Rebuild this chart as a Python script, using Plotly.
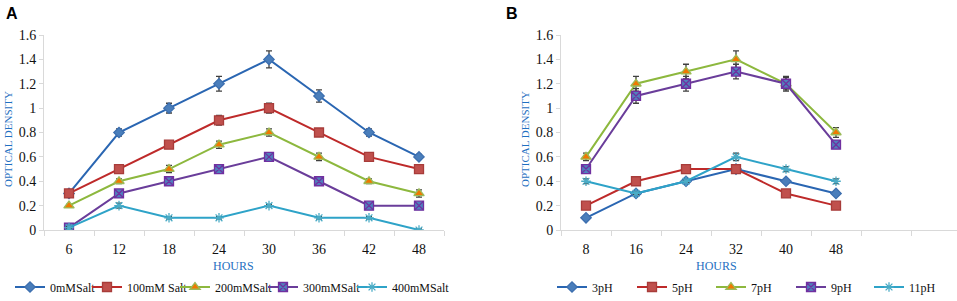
import plotly.graph_objects as go

# ---------------- data ----------------
hours_a = ["6", "12", "18", "24", "30", "36", "42", "48"]
salt_names = ["0mMSalt", "100mM Salt", "200mMSalt", "300mMSalt", "400mMSalt"]
salt_0 = [0.30, 0.80, 1.00, 1.20, 1.40, 1.10, 0.80, 0.60]
salt_0_err = [0.02, 0.03, 0.04, 0.06, 0.07, 0.05, 0.03, 0.02]
salt_100 = [0.30, 0.50, 0.70, 0.90, 1.00, 0.80, 0.60, 0.50]
salt_100_err = [0.02, 0.02, 0.02, 0.04, 0.04, 0.03, 0.02, 0.02]
salt_200 = [0.20, 0.40, 0.50, 0.70, 0.80, 0.60, 0.40, 0.30]
salt_200_err = [0.01, 0.02, 0.03, 0.03, 0.03, 0.03, 0.02, 0.03]
salt_300 = [0.02, 0.30, 0.40, 0.50, 0.60, 0.40, 0.20, 0.20]
salt_300_err = [0.01, 0.02, 0.01, 0.01, 0.02, 0.02, 0.01, 0.01]
salt_400 = [0.02, 0.20, 0.10, 0.10, 0.20, 0.10, 0.10, 0.00]
salt_400_err = [0.01, 0.02, 0.01, 0.01, 0.01, 0.01, 0.01, 0.01]

hours_b = ["8", "16", "24", "32", "40", "48"]
ph_names = ["3pH", "5pH", "7pH", "9pH", "11pH"]
ph_3 = [0.10, 0.30, 0.40, 0.50, 0.40, 0.30]
ph_3_err = [0.01, 0.01, 0.01, 0.01, 0.01, 0.01]
ph_5 = [0.20, 0.40, 0.50, 0.50, 0.30, 0.20]
ph_5_err = [0.01, 0.01, 0.01, 0.01, 0.01, 0.01]
ph_7 = [0.60, 1.20, 1.30, 1.40, 1.20, 0.80]
ph_7_err = [0.03, 0.06, 0.06, 0.07, 0.05, 0.04]
ph_9 = [0.50, 1.10, 1.20, 1.30, 1.20, 0.70]
ph_9_err = [0.02, 0.06, 0.06, 0.06, 0.06, 0.03]
ph_11 = [0.40, 0.30, 0.40, 0.60, 0.50, 0.40]
ph_11_err = [0.02, 0.01, 0.01, 0.03, 0.02, 0.02]

y_ticks = [0, 0.2, 0.4, 0.6, 0.8, 1.0, 1.2, 1.4, 1.6]

# ---------------- styles ----------------
styles = [
    dict(line="#2A66B2", mfill="#4A7EBB", mline="#3D6FAF", symbol="diamond", size=8),
    dict(line="#BE2A2A", mfill="#C0504D", mline="#A83C3A", symbol="square", size=9),
    dict(line="#8DB83E", mfill="#F07800", mline="#9BBB59", symbol="triangle-up", size=9),
    dict(line="#6A3D9A", mfill="#4F81BD", mline="#7030A0", symbol="square-x", size=9),
    dict(line="#2EA3C8", mfill="#4BACC6", mline="#4BACC6", symbol="asterisk-open", size=8),
]

FONT = "'Liberation Serif', 'Times New Roman', serif"
BLUE_T = "#1F70C1"
W, H = 957, 301

fig = go.Figure()

series_a = [(salt_0, salt_0_err), (salt_100, salt_100_err), (salt_200, salt_200_err),
            (salt_300, salt_300_err), (salt_400, salt_400_err)]
series_b = [(ph_3, ph_3_err), (ph_5, ph_5_err), (ph_7, ph_7_err),
            (ph_9, ph_9_err), (ph_11, ph_11_err)]

# legend left edges (pixels) for each entry
legend_x_a = [10, 87, 175, 263, 352]
legend_x_b = [552, 632, 711, 791, 869]
legend_y = 287

legend_layout = {}

def add(names, series, cats, xa, ya, lx, start_idx):
    xs = list(range(len(cats)))
    for i, (name, (vals, err), st) in enumerate(zip(names, series, styles)):
        k = start_idx + i
        lid = "legend" if k == 1 else f"legend{k}"
        legend_layout[lid] = dict(
            orientation="h", xref="container", yref="container",
            x=lx[i] / W, y=(H - legend_y) / H, xanchor="left", yanchor="middle",
            font=dict(family=FONT, size=12, color="#111"),
            bgcolor="rgba(0,0,0,0)", itemwidth=30, borderwidth=0,
        )
        fig.add_trace(go.Scatter(
            x=xs, y=vals, name=name, xaxis=xa, yaxis=ya, legend=lid,
            mode="lines+markers",
            line=dict(color=st["line"], width=2),
            marker=dict(symbol=st["symbol"], size=st["size"], color=st["mfill"],
                        line=dict(color=st["mline"], width=1.3)),
            error_y=dict(type="data", array=err, visible=True,
                         color="#404040", thickness=1.3, width=3),
        ))

add(salt_names, series_a, hours_a, "x", "y", legend_x_a, 1)
add(ph_names, series_b, hours_b, "x2", "y2", legend_x_b, 6)

# pixel geometry
y_top, y_bot = 35, 230
ydom = [(H - y_bot) / H, (H - y_top) / H]
ax_a = [44, 444]
ax_b = [561, 957]

def xaxis(dom, cats, rng_hi):
    return dict(
        domain=[dom[0] / W, dom[1] / W],
        range=[-0.5, rng_hi],
        tickmode="array", tickvals=list(range(len(cats))), ticktext=cats,
        ticks="", showgrid=False, zeroline=False,
        showline=True, linecolor="#D9D9D9", linewidth=1,
        ticklabelstandoff=6,
        tickfont=dict(family=FONT, size=14, color="#111"),
        minor=dict(ticks="outside", ticklen=5, tickcolor="#D9D9D9",
                   tick0=0.5, dtick=1, showgrid=False),
    )

def yaxis(anchor):
    return dict(
        domain=ydom, range=[0, 1.6], anchor=anchor,
        tickmode="array", tickvals=y_ticks,
        ticks="outside", ticklen=4, tickcolor="#D9D9D9",
        showgrid=False, zeroline=False,
        showline=True, linecolor="#D9D9D9", linewidth=1,
        tickfont=dict(family=FONT, size=14, color="#111"),
    )

fig.update_layout(
    width=W, height=H,
    margin=dict(l=0, r=0, t=0, b=0, autoexpand=False),
    paper_bgcolor="white", plot_bgcolor="white",
    font=dict(family=FONT),
    xaxis=dict(**xaxis(ax_a, hours_a, 7.5), anchor="y"),
    yaxis=yaxis("x"),
    xaxis2=dict(**xaxis(ax_b, hours_b, -0.5 + 8 * (ax_b[1] - ax_b[0]) / 400), anchor="y2"),
    yaxis2=yaxis("x2"),
    showlegend=True,
    **legend_layout,
)

ann = []
ann.append(dict(text="<b>A</b>", x=4 / W, y=(H - 13.5) / H, xref="paper", yref="paper",
                xanchor="left", yanchor="middle", showarrow=False,
                font=dict(family="Liberation Sans", size=16, color="#000")))
ann.append(dict(text="<b>B</b>", x=504 / W, y=(H - 13.5) / H, xref="paper", yref="paper",
                xanchor="left", yanchor="middle", showarrow=False,
                font=dict(family="Liberation Sans", size=16, color="#000")))
for xc in (233, 716):
    ann.append(dict(text="HOURS", x=xc / W, y=(H - 266) / H, xref="paper", yref="paper",
                    xanchor="center", yanchor="middle", showarrow=False,
                    font=dict(family=FONT, size=12, color=BLUE_T)))
for xc in (8, 525):
    ann.append(dict(text="OPTICAL DENSITY", x=xc / W, y=(H - 139) / H, xref="paper", yref="paper",
                    xanchor="center", yanchor="middle", showarrow=False, textangle=-90,
                    font=dict(family=FONT, size=11, color=BLUE_T)))
fig.update_layout(annotations=ann)

fig.write_html("out.html", config={"displayModeBar": False},
               post_script="document.body.style.margin='0';document.body.style.padding='0';")
